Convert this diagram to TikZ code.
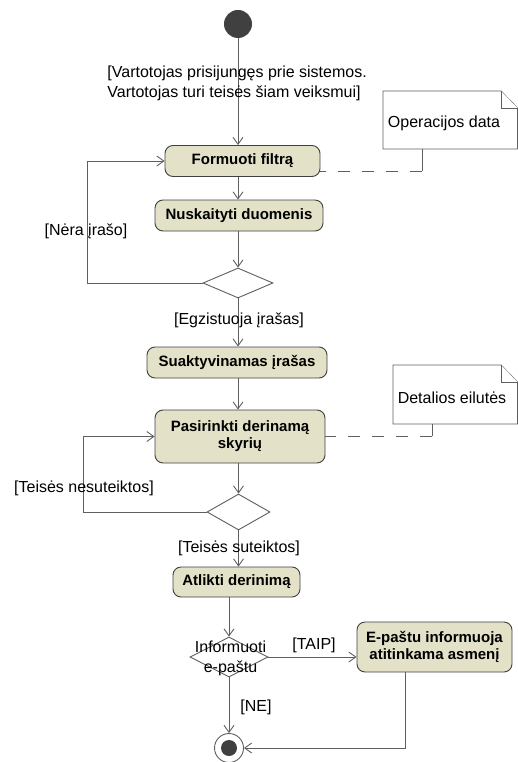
\documentclass[tikz,border=0pt]{standalone}
\usepackage{fontspec}
\setmainfont{Liberation Sans}
\usepackage{tikz}
\usetikzlibrary{shapes,positioning,calc,arrows.meta}

\definecolor{actfill}{RGB}{227,226,200}
\definecolor{lncol}{RGB}{95,95,95}

\begin{document}
\begin{tikzpicture}
	\tikzstyle{act}=[draw=black!75, rectangle, rounded corners=8pt, fill=actfill, font=\fontsize{15}{17}\selectfont\bfseries, align=center, line width=0.9pt, inner sep=2pt];
	\tikzstyle{dec}=[draw=lncol, diamond, fill=white, inner sep=0pt, line width=0.9pt];
	\tikzstyle{flow}=[draw=lncol, line width=0.9pt, -{Straight Barb[length=7pt,width=10pt]}];
	\tikzstyle{guard}=[font=\fontsize{16}{20}\selectfont, align=left, inner sep=0pt];
	\tikzstyle{notebox}=[draw=lncol, line width=0.9pt, fill=white];
	\tikzstyle{notelink}=[draw=lncol, line width=0.9pt, dash pattern=on 12pt off 12pt];

	\useasboundingbox (0pt,0pt) rectangle (518pt,-762pt);

	% initial and final states
	\node[circle, fill=black!75, minimum size=28pt, inner sep=0pt] (start) at (238pt,-24pt) {};
	\node[circle, draw=lncol, line width=0.9pt, fill=white, minimum size=29pt, inner sep=0pt] (stop) at (229pt,-748pt) {};
	\node[circle, fill=black!75, minimum size=16pt, inner sep=0pt] (stopdot) at (stop) {};

	% actions
	\node[act, minimum width=155pt, minimum height=31pt] (filtras) at (242.5pt,-161pt) {Formuoti filtrą};
	\node[act, minimum width=168pt, minimum height=31pt] (duomenys) at (239pt,-215.5pt) {Nuskaityti duomenis};
	\node[act, minimum width=180pt, minimum height=31pt] (aktyv) at (237pt,-362.5pt) {Suaktyvinamas įrašas};
	\node[act, minimum width=170pt, minimum height=53pt] (skyrius) at (240pt,-436.5pt) {Pasirinkti derinamą\\skyrių};
	\node[act, minimum width=127pt, minimum height=30pt] (derinimas) at (236.5pt,-582pt) {Atlikti derinimą};
	\node[act, minimum width=155pt, minimum height=50pt] (pastas) at (434.5pt,-647pt) {E-paštu informuoja\\atitinkama asmenį};

	% decisions
	\node[dec, minimum width=70pt, minimum height=30pt] (d1) at (238pt,-283pt) {};
	\node[dec, minimum width=63pt, minimum height=36pt] (d2) at (238.5pt,-512pt) {};
	\node[dec, minimum width=78pt, minimum height=40pt] (d3) at (229pt,-657pt) {};
	\node[guard, align=center] (d3txt) at ($(d3)+(1.5pt,-1pt)$) {Informuoti\\e-paštu};

	% main flow
	\draw[flow] (start) -- (start |- filtras.north);
	\node[guard, anchor=east] (pre) at (367pt,-83pt) {[Vartotojas prisijungęs prie sistemos.\\Vartotojas turi teisės šiam veiksmui]};
	\draw[flow] (filtras.south -| start) -- (start |- duomenys.north);
	\draw[flow] (duomenys.south -| d1) -- (d1.north);
	\draw[flow] (d1.south) -- (d1 |- aktyv.north);
	\node[guard] (yes1) at (239pt,-320pt) {[Egzistuoja įrašas]};
	\draw[flow] (aktyv.south -| d1) -- (d1 |- skyrius.north);
	\draw[flow] (skyrius.south -| d2) -- (d2.north);
	\draw[flow] (d2.south) -- (d2 |- derinimas.north);
	\node[guard] (yes2) at (239pt,-548pt) {[Teisės suteiktos]};
	\draw[flow] (derinimas.south -| d3) -- (d3.north);
	\draw[flow] (d3.east) -- (d3.east -| pastas.west);
	\node[guard] (taip) at (314pt,-645pt) {[TAIP]};
	\draw[flow] (d3.south) -- (stop.north);
	\node[guard] (ne) at (256pt,-707pt) {[NE]};
	\coordinate (bend) at (405pt,-748pt);
	\draw[flow] (pastas.south -| bend) -- (bend) -- (stop.east);

	% loops back
	\coordinate (loopA) at (87pt,-283pt);
	\draw[flow] (d1.west) -- (loopA) |- (filtras.west);
	\node[guard] (no1) at (86pt,-231pt) {[Nėra įrašo]};
	\coordinate (loopB) at (83pt,-512pt);
	\draw[flow] (d2.west) -- (loopB) |- (skyrius.west);
	\node[guard] (no2) at (84pt,-488pt) {[Teisės nesuteiktos]};

	% notes
	\draw[notebox] (383pt,-91pt) -- (501pt,-91pt) -- (517.5pt,-108pt) -- (517.5pt,-149pt) -- (383pt,-149pt) -- cycle;
	\draw[notebox] (501pt,-91pt) -- (501pt,-108pt) -- (517.5pt,-108pt);
	\node[guard] (opdata) at (444pt,-123pt) {Operacijos data};
	\coordinate (opstub) at (422pt,-149pt);
	\coordinate (opknee) at (422pt,-171pt);
	\draw[draw=lncol, line width=0.9pt] (opstub) -- (opknee);
	\draw[notelink] (opknee) -- (opknee -| filtras.east);

	\draw[notebox] (393pt,-365pt) -- (501pt,-365pt) -- (517.5pt,-382pt) -- (517.5pt,-424pt) -- (393pt,-424pt) -- cycle;
	\draw[notebox] (501pt,-365pt) -- (501pt,-382pt) -- (517.5pt,-382pt);
	\node[guard] (eilutes) at (452pt,-398pt) {Detalios eilutės};
	\coordinate (detstub) at (432pt,-424pt);
	\coordinate (detknee) at (432pt,-436pt);
	\draw[draw=lncol, line width=0.9pt] (detstub) -- (detknee);
	\draw[notelink] (detknee) -- (detknee -| skyrius.east);

\end{tikzpicture}
\end{document}
